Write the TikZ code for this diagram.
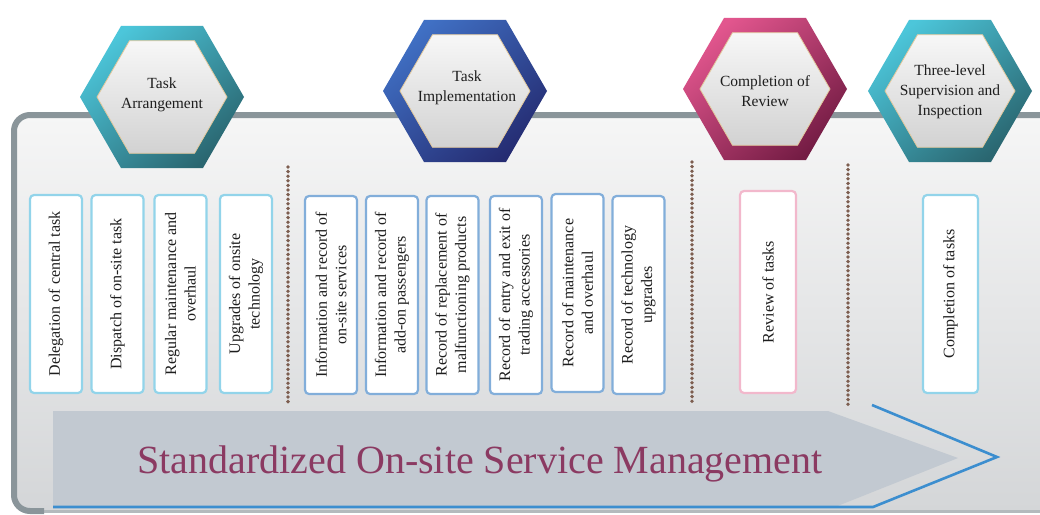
\documentclass[tikz,border=0pt]{standalone}
\usepackage{fontspec}
\setmainfont{Liberation Serif}
\usetikzlibrary{shapes.geometric}
\definecolor{framegray}{HTML}{8A959A}
\definecolor{framelight}{HTML}{B4BABD}
\definecolor{paneltop}{HTML}{F6F6F6}
\definecolor{panelbot}{HTML}{D4D6D8}
\definecolor{tealtop}{HTML}{4CC6DA}
\definecolor{tealbot}{HTML}{2A6670}
\definecolor{bluetop}{HTML}{4070C4}
\definecolor{bluebot}{HTML}{252C72}
\definecolor{pinktop}{HTML}{E2568E}
\definecolor{pinkbot}{HTML}{741C44}
\definecolor{corelight}{HTML}{F7F7F7}
\definecolor{coredark}{HTML}{D2D2D2}
\definecolor{coreline}{HTML}{E2C89C}
\definecolor{textdark}{HTML}{1E1E1E}
\definecolor{cyanline}{HTML}{92D4EA}
\definecolor{steelline}{HTML}{82AEDA}
\definecolor{roseline}{HTML}{F2B8CC}
\definecolor{dotbrown}{HTML}{7D5E50}
\definecolor{arrowgray}{HTML}{C2C9D1}
\definecolor{arrowblue}{HTML}{3C8ECF}
\definecolor{plum}{HTML}{8B3A62}

\tikzset{
  hexring/.style={regular polygon, regular polygon sides=6, minimum size=164pt, inner sep=0pt},
  hexcore/.style={regular polygon, regular polygon sides=6, minimum size=130pt, inner sep=0pt,
    top color=corelight, bottom color=coredark, draw=coreline, line width=0.8pt},
  hextext/.style={align=center, font=\fontsize{15.5}{20}\selectfont, text=textdark},
  taskbox/.style={rotate=90, rectangle, rounded corners=4pt, fill=white, line width=2.2pt,
    minimum width=198pt, minimum height=52pt, align=center, inner sep=2pt,
    font=\fontsize{16}{19.5}\selectfont, text=textdark},
  sepline/.style={draw=dotbrown, line width=3.8pt, line cap=round, dash pattern=on 0pt off 4.6pt}
}

\begin{document}
\begin{tikzpicture}[x=1pt,y=-1pt]
    \useasboundingbox (0,0) rectangle (1040,514);
    \fill[white] (0,0) rectangle (1040,514);

    % panel and frame
    \fill[top color=paneltop, bottom color=panelbot, rounded corners=18pt] (14,115) rectangle (1056,511);
    \draw[framelight, line width=3pt] (40,511) -- (1056,511);
    \draw[framegray, line width=6pt, rounded corners=16pt] (44,511) -- (14,511) -- (14,115) -- (1056,115) -- (1056,300);

    % separators
    \draw[sepline] (288,167) -- (288,403);
    \draw[sepline] (692,162) -- (692,405);
    \draw[sepline] (848,165) -- (848,408);

    % arrow
    \fill[arrowgray] (53,411) -- (828,411) -- (958,458) -- (835,507) -- (53,507) -- cycle;
    \draw[arrowblue, line width=2.6pt, line join=miter] (53,507) -- (873,507) -- (997,457) -- (872,405);
    \node[anchor=base, text=plum, font=\fontsize{40}{44}\selectfont] (title) at (480,473)
      {Standardized On-site Service Management};

    % hexagons
    \node[hexring, top color=tealtop, bottom color=tealbot, shading angle=40] (h1) at (162,97) {};
    \node[hexcore] (h1c) at (h1) {};
    \node[hextext] (t1) at (162,95) {Task\\Arrangement};

    \node[hexring, top color=bluetop, bottom color=bluebot, shading angle=40] (h2) at (465,91) {};
    \node[hexcore] (h2c) at (h2) {};
    \node[hextext] (t2) at (467,88) {Task\\Implementation};

    \node[hexring, top color=pinktop, bottom color=pinkbot, shading angle=40] (h3) at (765,89) {};
    \node[hexcore] (h3c) at (h3) {};
    \node[hextext] (t3) at (765,91) {Completion of\\Review};

    \node[hexring, top color=tealtop, bottom color=tealbot, shading angle=40] (h4) at (950,91) {};
    \node[hexcore] (h4c) at (h4) {};
    \node[hextext] (t4) at (950,92) {Three-level\\Supervision and\\Inspection};

    % task boxes
    \node[taskbox, draw=cyanline] (b1) at (56,294) {Delegation of central task};
    \node[taskbox, draw=cyanline] (b2) at (117.5,294) {Dispatch of on-site task};
    \node[taskbox, draw=cyanline] (b3) at (180.5,294) {Regular maintenance and\\overhaul};
    \node[taskbox, draw=cyanline] (b4) at (246,294) {Upgrades of onsite\\technology};

    \node[taskbox, draw=steelline] (b5) at (331,295) {Information and record of\\on-site services};
    \node[taskbox, draw=steelline] (b6) at (392,295) {Information and record of\\add-on passengers};
    \node[taskbox, draw=steelline] (b7) at (452.5,295) {Record of replacement of\\malfunctioning products};
    \node[taskbox, draw=steelline] (b8) at (516,295) {Record of entry and exit of\\trading accessories};
    \node[taskbox, draw=steelline] (b9) at (577.5,293) {Record of maintenance\\and overhaul};
    \node[taskbox, draw=steelline] (b10) at (638.5,295) {Record of technology\\upgrades};

    \node[taskbox, draw=roseline, minimum height=56pt, minimum width=202pt] (b11) at (768,292) {Review of tasks};
    \node[taskbox, draw=cyanline, minimum height=55pt] (b12) at (950.5,294) {Completion of tasks};
\end{tikzpicture}
\end{document}
